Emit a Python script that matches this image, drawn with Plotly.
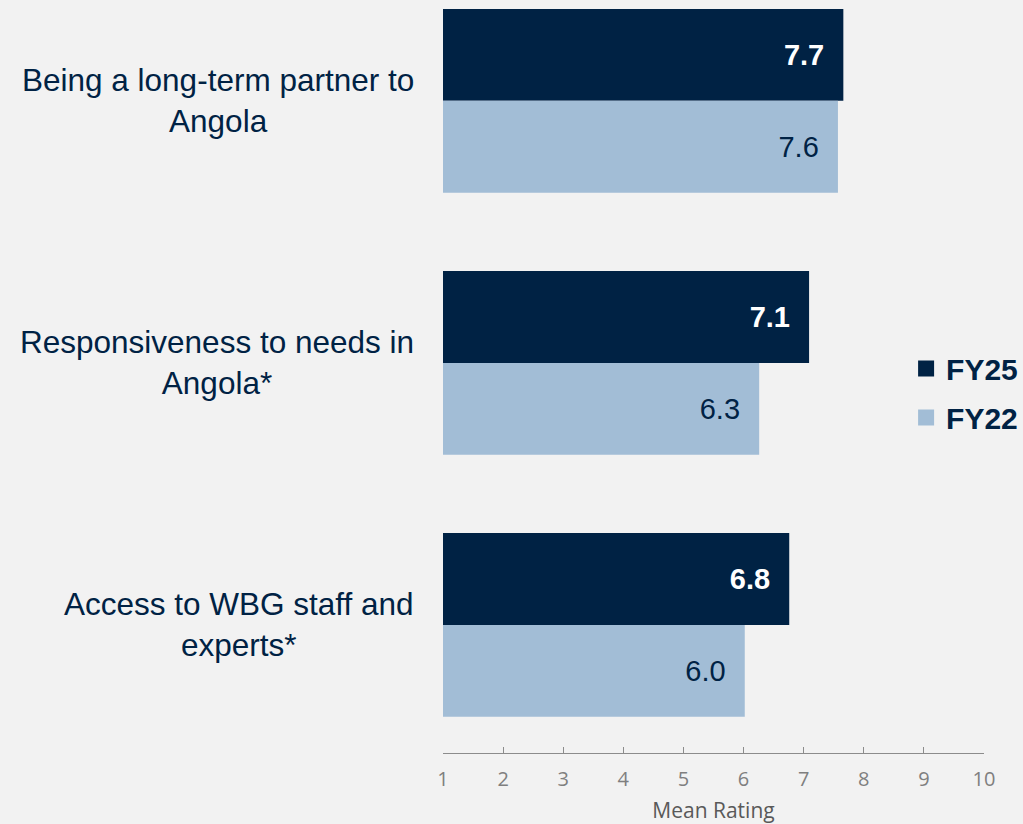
import plotly.graph_objects as go

categories = ["Being a long-term partner to<br>Angola",
              "Responsiveness to needs in<br>Angola*",
              "Access to WBG staff and<br>experts*"]
fy25 = [7.66, 7.09, 6.76]
fy22 = [7.57, 6.26, 6.02]
series_names = ["FY25", "FY22"]
x_ticks = [1, 2, 3, 4, 5, 6, 7, 8, 9, 10]

NAVY = "#002244"
LIGHT = "#A2BDD6"
BG = "#F2F2F2"
PAD = "\u00a0\u00a0"

fig = go.Figure()
fig.add_trace(go.Bar(
    y=categories, x=fy25, orientation="h", name=series_names[0],
    marker=dict(color=NAVY, line=dict(width=0)),
    text=[f"{v:.1f}{PAD}" for v in fy25], textposition="inside",
    insidetextanchor="end", textangle=0,
    textfont=dict(family="Liberation Sans, Arial", size=29, color="white", weight="bold"),
    showlegend=False, hoverinfo="skip"))
fig.add_trace(go.Bar(
    y=categories, x=fy22, orientation="h", name=series_names[1],
    marker=dict(color=LIGHT, line=dict(width=0)),
    text=[f"{v:.1f}{PAD}" for v in fy22], textposition="inside",
    insidetextanchor="end", textangle=0,
    textfont=dict(family="Liberation Sans, Arial", size=29, color=NAVY),
    showlegend=False, hoverinfo="skip"))

# legend entries
for name, col in zip(series_names, [NAVY, LIGHT]):
    fig.add_trace(go.Scatter(
        x=[None], y=[None], mode="markers", name=name, legendgroup=name,
        marker=dict(symbol="square", size=17, color=col)))

for cat in categories:
    fig.add_annotation(
        x=-0.05, xref="paper", y=cat, yref="y", text=cat,
        xanchor="right", yanchor="middle", align="center", showarrow=False,
        font=dict(family="Liberation Sans, Arial", size=31.5, color=NAVY))

fig.update_layout(
    width=1023, height=824,
    paper_bgcolor=BG, plot_bgcolor=BG,
    margin=dict(l=443, r=39, t=0, b=71, autoexpand=False),
    barmode="group", bargap=0.298, bargroupgap=0,
    showlegend=True,
    legend=dict(x=0.856, y=0.478, xanchor="left", yanchor="middle",
                bgcolor="rgba(0,0,0,0)", tracegroupgap=7, traceorder="grouped",
                font=dict(family="Liberation Sans, Arial", size=30, color=NAVY, weight="bold")),
    xaxis=dict(range=[1, 10], tickvals=x_ticks, ticks="inside", ticklen=6,
               tickcolor="#8C8C8C", showline=True, linecolor="#8C8C8C", linewidth=1,
               showgrid=False, zeroline=False, ticklabelstandoff=8, automargin=False,
               tickfont=dict(family="Open Sans, Lato", size=20, color="#7F7F7F"),
               title=dict(text="Mean Rating", standoff=28,
                          font=dict(family="Open Sans, Lato", size=21, color="#595959"))),
    yaxis=dict(categoryorder="array", categoryarray=categories,
               range=[2.489, -0.385], showticklabels=False, showgrid=False,
               showline=False, ticks="", zeroline=False, automargin=False),
)

fig.write_html("out.html", config={"displayModeBar": False},
               post_script="document.body.style.margin='0';"
                           "document.body.style.background='#F2F2F2';")
